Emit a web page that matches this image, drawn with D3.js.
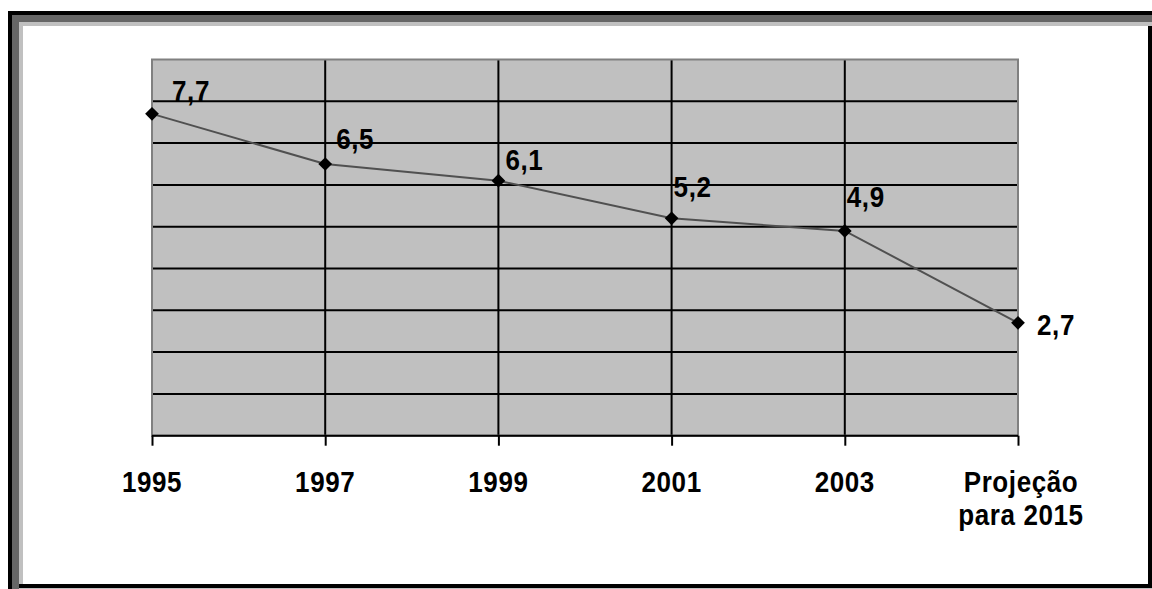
<!DOCTYPE html>
<html>
<head>
<meta charset="utf-8">
<script src="https://cdn.jsdelivr.net/npm/d3@7/dist/d3.min.js"></script>
<style>
  html, body { margin: 0; padding: 0; background: #ffffff; }
  svg { display: block; }
  text { font-family: "Liberation Sans", Arial, sans-serif; font-weight: bold; fill: #000; }
</style>
</head>
<body>
<svg id="chart" width="1152" height="589"></svg>
<script>
// ---- data ----
const categories = ["1995", "1997", "1999", "2001", "2003", "Projeção para 2015"];
const categoryLines = [["1995"], ["1997"], ["1999"], ["2001"], ["2003"], ["Projeção", "para 2015"]];
const values = [7.7, 6.5, 6.1, 5.2, 4.9, 2.7];
const valueLabels = ["7,7", "6,5", "6,1", "5,2", "4,9", "2,7"];
const yTicks = [0, 1, 2, 3, 4, 5, 6, 7, 8, 9];

// ---- layout (manual label placement as in the original) ----
const labelDx = [20, 11, 7, 2, 2, 19];
const labelDy = [-13, -15, -11, -21, -24, 12];

const W = 1152, H = 589;
const plot = { left: 152, right: 1018, top: 59.5, bottom: 435.7 };
const STRETCH = 1.13;

const svg = d3.select("#chart");

// frame
const frame = svg.append("g");
frame.append("rect").attr("x", 8).attr("y", 11).attr("width", W - 8).attr("height", H - 11).attr("fill", "#000");
frame.append("rect").attr("x", 12).attr("y", 15).attr("width", W - 12).attr("height", H - 15).attr("fill", "#666666");
frame.append("rect").attr("x", 19).attr("y", 22).attr("width", W - 19).attr("height", 584 - 22).attr("fill", "#c0c0c0");
frame.append("rect").attr("x", 23).attr("y", 26).attr("width", 1148 - 23).attr("height", 584 - 26).attr("fill", "#ffffff");
frame.append("rect").attr("x", 1148).attr("y", 26).attr("width", 4).attr("height", 562).attr("fill", "#000");
frame.append("rect").attr("x", 19).attr("y", 584).attr("width", W - 19).attr("height", 4).attr("fill", "#000");
frame.append("rect").attr("x", 19).attr("y", 588).attr("width", W - 19).attr("height", 1).attr("fill", "#c0c0c0");

// scales
const x = d3.scalePoint().domain(categories).range([plot.left, plot.right]);
const y = d3.scaleLinear().domain([0, 9]).range([plot.bottom, plot.top]);

// plot background
svg.append("rect")
  .attr("x", plot.left).attr("y", plot.top)
  .attr("width", plot.right - plot.left).attr("height", plot.bottom - plot.top)
  .attr("fill", "#c0c0c0");

// horizontal gridlines
svg.append("g").selectAll("line").data(yTicks.filter(t => t > 0 && t < 9)).join("line")
  .attr("x1", plot.left).attr("x2", plot.right)
  .attr("y1", d => y(d)).attr("y2", d => y(d))
  .attr("stroke", "#000").attr("stroke-width", 2);

// vertical gridlines
svg.append("g").selectAll("line").data(categories.slice(1, -1)).join("line")
  .attr("x1", d => x(d)).attr("x2", d => x(d))
  .attr("y1", plot.top).attr("y2", plot.bottom)
  .attr("stroke", "#000").attr("stroke-width", 2);

// plot border (gray)
svg.append("rect")
  .attr("x", plot.left).attr("y", plot.top)
  .attr("width", plot.right - plot.left).attr("height", plot.bottom - plot.top)
  .attr("fill", "none").attr("stroke", "#808080").attr("stroke-width", 2);

// x axis
const xAxis = d3.axisBottom(x).tickSize(10).tickFormat("");
const gx = svg.append("g").attr("transform", `translate(0,${plot.bottom})`).call(xAxis);
gx.select(".domain").attr("stroke", "#000").attr("stroke-width", 2)
  .attr("d", `M${plot.left},0H${plot.right}`);
gx.selectAll(".tick line").attr("stroke", "#000").attr("stroke-width", 2);

// category labels
svg.append("g").selectAll("g").data(categories).join("g")
  .attr("transform", (d, i) => `translate(${x(d) + (categoryLines[i].length > 1 ? 3 : 0)},492) scale(1,${STRETCH})`)
  .each(function(d, i) {
    const t = d3.select(this).append("text")
      .attr("text-anchor", "middle")
      .attr("font-size", 26)
      .attr("letter-spacing", 0.6);
    categoryLines[i].forEach((line, j) => {
      t.append("tspan").attr("x", 0).attr("dy", j === 0 ? 0 : 29).text(line);
    });
  });

// line
const line = d3.line().x((d, i) => x(categories[i])).y(d => y(d));
svg.append("path").datum(values)
  .attr("d", line).attr("fill", "none")
  .attr("stroke", "#505050").attr("stroke-width", 2);

// markers
const diamond = d3.symbol().type(d3.symbolDiamond2).size(120);
svg.append("g").selectAll("path").data(values).join("path")
  .attr("transform", (d, i) => `translate(${x(categories[i])},${y(d)})`)
  .attr("d", diamond).attr("fill", "#000");

// data labels
svg.append("g").selectAll("text").data(values).join("text")
  .attr("transform", (d, i) => `translate(${x(categories[i]) + labelDx[i]},${y(d) + labelDy[i]}) scale(1,${STRETCH})`)
  .attr("font-size", 26)
  .attr("letter-spacing", 0.6)
  .text((d, i) => valueLabels[i]);
</script>
</body>
</html>
